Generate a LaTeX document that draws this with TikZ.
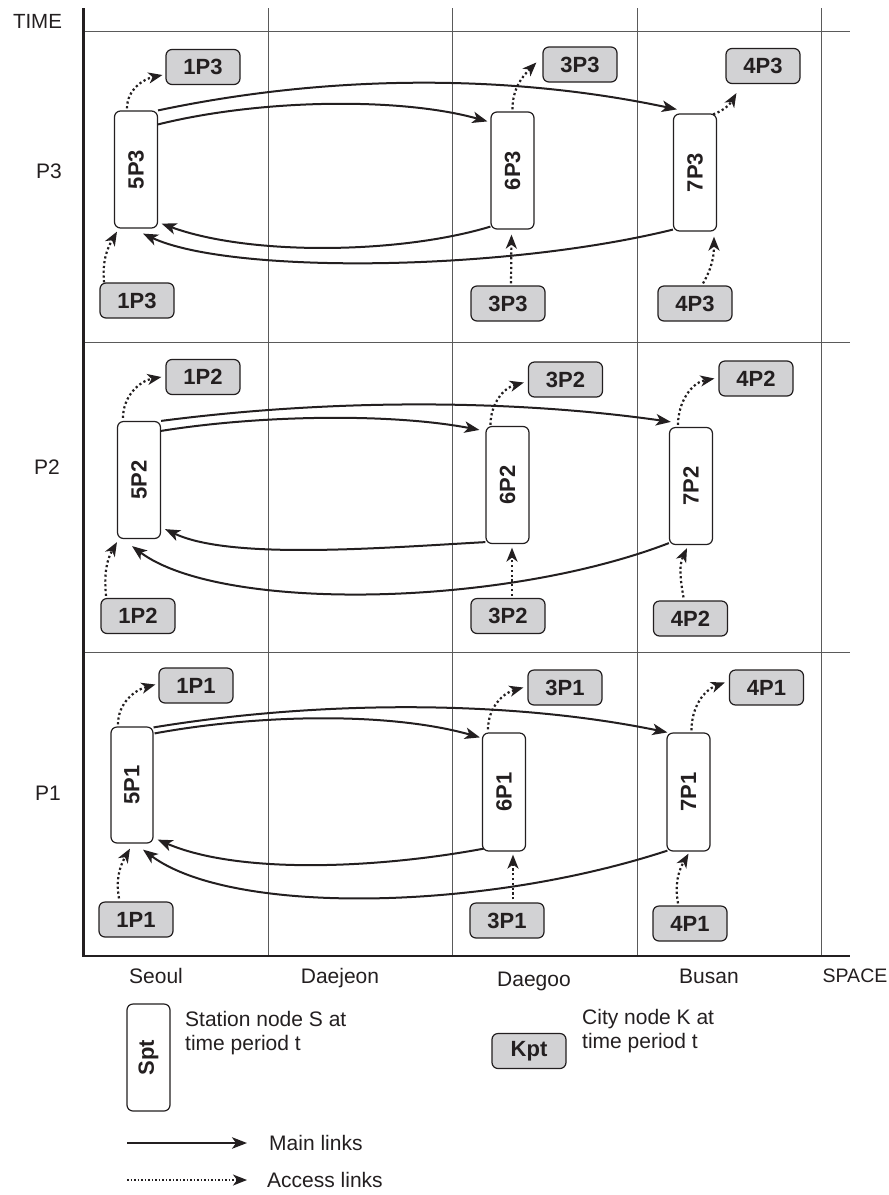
\documentclass[tikz,border=0pt]{standalone}
\usepackage{fontspec}
\setmainfont{Liberation Sans}
\usetikzlibrary{arrows.meta,calc}
\definecolor{ink}{HTML}{231F20}
\definecolor{gridc}{HTML}{5A5A5A}
\definecolor{cityfill}{HTML}{D2D2D4}
\tikzset{
 station/.style={draw=ink, line width=1.2pt, rounded corners=6pt, minimum width=43pt, minimum height=117pt, inner sep=0pt, fill=white, text=ink},
 city/.style={draw=ink, line width=1.2pt, rounded corners=6pt, minimum width=74pt, minimum height=35pt, inner sep=0pt, fill=cityfill, text=ink, font=\bfseries\fontsize{22}{22}\selectfont},
 mainlink/.style={draw=ink, line width=2pt, -{Stealth[length=15pt,width=11.5pt,inset=4pt]}},
 accesslink/.style={draw=ink, line width=2.2pt, dash pattern=on 2.2pt off 2.6pt, -{Stealth[length=14pt,width=11pt,inset=4pt]}},
 gridline/.style={draw=gridc, line width=0.9pt},
 axisline/.style={draw=ink, line width=2.2pt},
 lbl/.style={inner sep=0pt, text=ink, anchor=base},
}
\newcommand{\stlabel}[1]{\rotatebox{90}{\bfseries\fontsize{22}{22}\selectfont #1}}
\begin{document}
\begin{tikzpicture}[x=1pt,y=-1pt,font=\fontsize{21}{24}\selectfont]
\useasboundingbox[fill=white] (0,0) rectangle (889,1195);
% grid
\draw[gridline] (84,31) -- (850,31);
\draw[gridline] (84,342) -- (850,342);
\draw[gridline] (84,652) -- (850,652);
\draw[gridline] (268,8) -- (268,956);
\draw[gridline] (452,8) -- (452,956);
\draw[gridline] (637,8) -- (637,956);
\draw[gridline] (821,8) -- (821,956);
\draw[axisline] (83.5,8) -- (83.5,956) -- (850,956);
% axis labels
\node[lbl, font=\fontsize{20.5}{24}\selectfont] (time) at (37.5,28) {TIME};
\node[lbl] (p3) at (49,178) {P3};
\node[lbl] (p2) at (47,474) {P2};
\node[lbl] (p1) at (48,800) {P1};
\node[lbl] (seoul) at (156,983) {Seoul};
\node[lbl] (daejeon) at (340,983) {Daejeon};
\node[lbl] (daegoo) at (534,986) {Daegoo};
\node[lbl] (busan) at (709,983) {Busan};
\node[lbl, font=\fontsize{19.5}{24}\selectfont] (space) at (855,982) {SPACE};
% ---------- P3 ----------
\node[city] (c1t3) at (203,67) {1P3};
\node[station] (s53) at (136,169.5) {\stlabel{5P3}};
\node[city] (c1b3) at (137,300.5) {1P3};
\node[city] (c3t3) at (580,64.5) {3P3};
\node[station] (s63) at (512.5,170.5) {\stlabel{6P3}};
\node[station] (s73) at (695,172.5) {\stlabel{7P3}};
\node[city] (c4t3) at (763,66) {4P3};
\node[city] (c3b3) at (508,303.5) {3P3};
\node[city] (c4b3) at (695,303.5) {4P3};
\draw[mainlink] (s53.north east) .. controls (330,74) and (510,74) .. ($(s73.north west)+(4,-4)$);
\draw[mainlink] ($(s53.north east)+(0,14)$) .. controls (260,99) and (400,97) .. ($(s63.north west)+(-3,10)$);
\draw[mainlink] ($(s63.south west)+(0,-3)$) .. controls (400,254) and (250,256) .. ($(s53.south east)+(3.5,-5)$);
\draw[mainlink] ($(s73.south west)+(0,-2)$) .. controls (500,272) and (230,274) .. ($(s53.south)+(7,5)$);
\draw[accesslink] ($(s53.north)+(-9,-2)$) to[out=90,in=192] ($(c1t3.west)+(-3,8)$);
\draw[accesslink] ($(c1b3.north)+(-33,0)$) to[out=95,in=240] ($(s53.south)+(-19,3)$);
\draw[accesslink] ($(s63.north)+(0,-2)$) to[out=90,in=225] ($(c3t3.west)+(-6,-2)$);
\draw[accesslink] ($(c3b3.north)+(3,-2)$) -- ($(s63.south)+(-1,5)$);
\draw[accesslink] ($(s73.north east)+(-4,1)$) to[out=20,in=240] ($(c4t3.south west)+(11,9)$);
\draw[accesslink] ($(c4b3.north)+(8,-2)$) to[out=60,in=270] ($(s73.south)+(19,5)$);
% ---------- P2 ----------
\node[city] (c1t2) at (203,377) {1P2};
\node[station] (s52) at (139,480) {\stlabel{5P2}};
\node[city] (c1b2) at (138,616) {1P2};
\node[city] (c3t2) at (565.5,379.5) {3P2};
\node[station] (s62) at (507.5,485) {\stlabel{6P2}};
\node[station] (s72) at (691,486) {\stlabel{7P2}};
\node[city] (c4t2) at (756,378.5) {4P2};
\node[city] (c3b2) at (508,616) {3P2};
\node[city] (c4b2) at (690.5,618.5) {4P2};
\draw[mainlink] (s52.north east) .. controls (330,399) and (510,399) .. ($(s72.north west)+(2,-5)$);
\draw[mainlink] ($(s52.north east)+(0,10)$) .. controls (260,415) and (390,413) .. ($(s62.north west)+(-6,4)$);
\draw[mainlink] ($(s62.south west)+(0,-2)$) .. controls (380,548) and (230,560) .. ($(s52.south east)+(4,-10)$);
\draw[mainlink] ($(s72.south west)+(0,-2)$) .. controls (500,608) and (220,612) .. ($(s52.south)+(-7,7)$);
\draw[accesslink] ($(s52.north)+(-16,-3)$) to[out=90,in=190] ($(c1t2.west)+(-4,0)$);
\draw[accesslink] ($(c1b2.north)+(-32,-2)$) to[out=95,in=240] ($(s52.south)+(-22,3)$);
\draw[accesslink] ($(s62.north)+(-17,-1)$) to[out=90,in=195] ($(c3t2.west)+(-4,3)$);
\draw[accesslink] ($(c3b2.north)+(4,-2)$) -- ($(s62.south)+(4.5,3.5)$);
\draw[accesslink] ($(s72.north)+(-13,-2)$) to[out=90,in=190] ($(c4t2.west)+(-4,0)$);
\draw[accesslink] ($(c4b2.north)+(-7,-3)$) to[out=100,in=245] ($(s72.south)+(-4,3)$);
% ---------- P1 ----------
\node[city] (c1t1) at (196,685.5) {1P1};
\node[station, minimum width=42pt, minimum height=116pt] (s51) at (132,785) {\stlabel{5P1}};
\node[city] (c1b1) at (136,919.5) {1P1};
\node[city] (c3t1) at (565,687.5) {3P1};
\node[station, minimum height=118pt] (s61) at (504,792) {\stlabel{6P1}};
\node[station, minimum height=118pt] (s71) at (688.5,792) {\stlabel{7P1}};
\node[city] (c4t1) at (766.5,687.5) {4P1};
\node[city] (c3b1) at (507,920.5) {3P1};
\node[city] (c4b1) at (690,923.5) {4P1};
\draw[mainlink] ($(s51.north east)+(0,1)$) .. controls (320,700) and (510,700) .. ($(s71.north west)+(1,0)$);
\draw[mainlink] ($(s51.north east)+(1,7)$) .. controls (260,714) and (390,712) .. ($(s61.north west)+(-2,5)$);
\draw[mainlink] ($(s61.south west)+(2,-3)$) .. controls (380,868) and (240,875) .. ($(s51.south east)+(4,-4)$);
\draw[mainlink] ($(s71.south west)+(1,-1)$) .. controls (480,912) and (230,915) .. ($(s51.south)+(11,6)$);
\draw[accesslink] ($(s51.north)+(-14,-2)$) to[out=90,in=195] ($(c1t1.west)+(-3,-1)$);
\draw[accesslink] ($(c1b1.north)+(-17,-3)$) to[out=100,in=240] ($(s51.south)+(-2,5)$);
\draw[accesslink] ($(s61.north)+(-16,-3)$) to[out=90,in=195] ($(c3t1.west)+(-4,0)$);
\draw[accesslink] ($(c3b1.north)+(6,-3)$) -- ($(s61.south)+(9,3)$);
\draw[accesslink] ($(s71.north)+(3,-2)$) to[out=90,in=200] ($(c4t1.west)+(-4,-5)$);
\draw[accesslink] ($(c4b1.north)+(-12,-2)$) to[out=100,in=240] ($(s71.south)+(0,2)$);
% ---------- legend ----------
\node[station, minimum height=107pt] (spt) at (148.5,1057.5) {\stlabel{Spt}};
\node[lbl, anchor=base west, align=left] (spttext) at (185,1050) {Station node S at\\time period t};
\node[city] (kpt) at (529,1051) {Kpt};
\node[lbl, anchor=base west, align=left] (kpttext) at (582,1048) {City node K at\\time period t};
\coordinate (ml1) at (127,1143);
\coordinate (ml2) at (247,1143);
\draw[mainlink] (ml1) -- (ml2);
\node[lbl, anchor=base west] (mltext) at (269,1150) {Main links};
\coordinate (al1) at (127,1180);
\coordinate (al2) at (247,1180);
\draw[accesslink, line width=1.5pt, dash pattern=on 1.5pt off 2pt] (al1) -- (al2);
\node[lbl, anchor=base west] (altext) at (267,1187) {Access links};
\end{tikzpicture}
\end{document}
